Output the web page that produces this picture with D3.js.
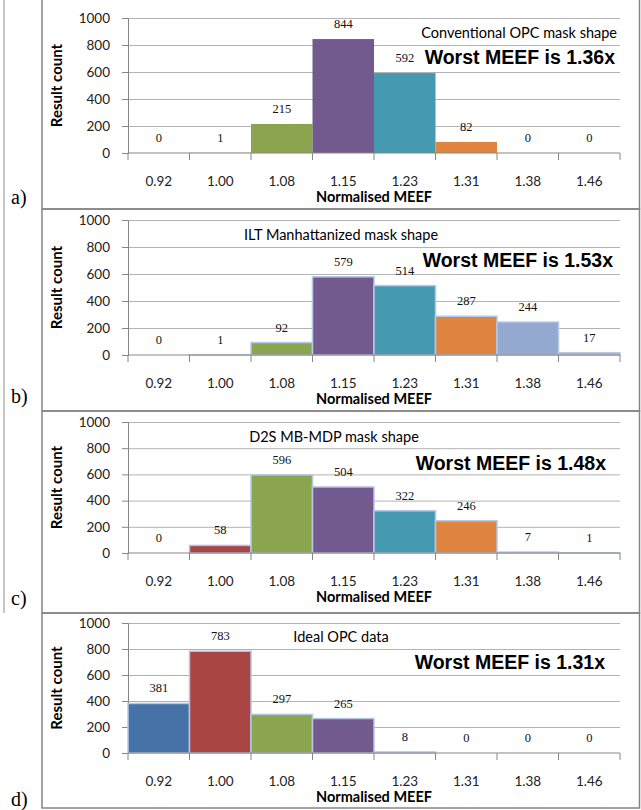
<!DOCTYPE html>
<html>
<head>
<meta charset="utf-8">
<script src="https://cdn.jsdelivr.net/npm/d3@7"></script>
<style>
  body { margin: 0; background: #fff; }
  svg { display: block; }
  .tick text { font-family: Lato, "Open Sans", sans-serif; font-size: 13.5px; fill: #222; }
  .grid line { stroke: #b3b3b3; }
  .grid path { display: none; }
</style>
</head>
<body>
<div id="chart"></div>
<script>
{
  const { d3 } = window;

  // Data
  const categories = ['0.92', '1.00', '1.08', '1.15', '1.23', '1.31', '1.38', '1.46'];
  const countsA = [0, 1, 215, 844, 592, 82, 0, 0];
  const countsB = [0, 1, 92, 579, 514, 287, 244, 17];
  const countsC = [0, 58, 596, 504, 322, 246, 7, 1];
  const countsD = [381, 783, 297, 265, 8, 0, 0, 0];
  const maskTitles = [
    'Conventional OPC mask shape',
    'ILT Manhattanized  mask shape',
    'D2S MB-MDP mask shape',
    'Ideal OPC data',
  ];
  const worstMeef = ['1.36x', '1.53x', '1.48x', '1.31x'];
  const panelLetters = ['a)', 'b)', 'c)', 'd)'];
  const yTicks = [0, 200, 400, 600, 800, 1000];

  const barColors = ['#4672a8', '#a94543', '#8aa54d', '#735a8e', '#4599b0', '#df853f', '#93a9d0', '#d99795'];

  // Page layout of each panel (box, plot top/bottom, title spots)
  const layout = [
    { top: 0, bottom: 209, yTop: 18, yBase: 153, title: [617, 33, 'end'], worst: [615, 57], stroke: 'none', letter: 204 },
    { top: 209, bottom: 411, yTop: 220, yBase: 355, title: [341, 235, 'middle'], worst: [613, 260], stroke: '#b4c7e7', letter: 403 },
    { top: 411, bottom: 613, yTop: 422, yBase: 553, title: [334, 437, 'middle'], worst: [606, 463], stroke: '#b4c7e7', letter: 605 },
    { top: 613, bottom: 808, yTop: 623, yBase: 753, title: [341, 637, 'middle'], worst: [605, 662], stroke: '#b4c7e7', letter: 806 },
  ];
  const series = [countsA, countsB, countsC, countsD];

  const width = 641;
  const height = 810;
  const boxLeft = 42;
  const plotLeft = 128;
  const plotRight = 620;

  const svg = d3.select('#chart').append('svg')
    .attr('width', width)
    .attr('height', height);

  // thin rule down the left side of the figure
  svg.append('line')
    .attr('x1', 4).attr('x2', 4)
    .attr('y1', 0).attr('y2', 613)
    .attr('stroke', '#8c8c8c')
    .attr('stroke-width', 1);

  const x = d3.scaleBand()
    .domain(categories)
    .range([plotLeft, plotRight])
    .padding(0);

  series.forEach((counts, i) => {
    const L = layout[i];
    const g = svg.append('g');

    // panel box
    g.append('path')
      .attr('d', `M${boxLeft},${L.top}V${L.bottom}H${width - 1.5}V${L.top}` + (i === 0 ? '' : `H${boxLeft}`))
      .attr('fill', 'none')
      .attr('stroke', '#858585')
      .attr('stroke-width', 1.5);

    const y = d3.scaleLinear()
      .domain([0, 1000])
      .range([L.yBase, L.yTop]);

    // gridlines
    g.append('g')
      .attr('class', 'grid')
      .attr('transform', `translate(${plotLeft},0)`)
      .call(d3.axisLeft(y).tickValues(yTicks.slice(1)).tickSize(-(plotRight - plotLeft)).tickFormat(''));

    // y axis
    const yAxis = g.append('g')
      .attr('transform', `translate(${plotLeft},0)`)
      .call(d3.axisLeft(y).tickValues(yTicks).tickFormat(d3.format('d')).tickSize(6).tickPadding(12));
    yAxis.select('.domain').attr('stroke', '#868686');
    yAxis.selectAll('.tick line').attr('stroke', '#868686');

    // bars
    g.selectAll('rect.bar')
      .data(counts)
      .join('rect')
      .attr('class', 'bar')
      .attr('x', (d, j) => x(categories[j]))
      .attr('width', x.bandwidth())
      .attr('y', (d) => y(d))
      .attr('height', (d) => y(0) - y(d))
      .attr('fill', (d, j) => barColors[j])
      .attr('stroke', L.stroke)
      .attr('stroke-width', 1.5);

    // value labels
    g.selectAll('text.val')
      .data(counts)
      .join('text')
      .attr('class', 'val')
      .attr('x', (d, j) => x(categories[j]) + x.bandwidth() / 2)
      .attr('y', (d) => y(d) - 11)
      .attr('text-anchor', 'middle')
      .style('font-family', '"Liberation Serif", serif')
      .style('font-size', '12.5px')
      .style('fill', '#111')
      .text((d) => d);

    // x axis: labels centred, ticks on band edges
    const xAxis = g.append('g')
      .attr('transform', `translate(0,${L.yBase})`)
      .call(d3.axisBottom(x).tickSize(0).tickPadding(23));
    xAxis.select('.domain').remove();
    g.append('line')
      .attr('x1', plotLeft).attr('x2', plotRight)
      .attr('y1', L.yBase).attr('y2', L.yBase)
      .attr('stroke', '#868686');
    g.selectAll('line.xtick')
      .data(categories.concat(['end']))
      .join('line')
      .attr('class', 'xtick')
      .attr('x1', (d) => (d === 'end' ? plotRight : x(d)))
      .attr('x2', (d) => (d === 'end' ? plotRight : x(d)))
      .attr('y1', L.yBase)
      .attr('y2', L.yBase + 7)
      .attr('stroke', '#868686');

    // axis titles
    g.append('text')
      .attr('x', (plotLeft + plotRight) / 2)
      .attr('y', L.yBase + 49)
      .attr('text-anchor', 'middle')
      .style('font-family', 'Lato, sans-serif')
      .style('font-weight', 'bold')
      .style('font-size', '14.5px')
      .text('Normalised MEEF');

    g.append('text')
      .attr('transform', `translate(62,${(L.yTop + L.yBase) / 2}) rotate(-90)`)
      .attr('text-anchor', 'middle')
      .style('font-family', 'Lato, sans-serif')
      .style('font-weight', 'bold')
      .style('font-size', '15px')
      .text('Result count');

    // mask-shape title
    g.append('text')
      .attr('x', L.title[0])
      .attr('y', L.title[1] + 5)
      .attr('text-anchor', L.title[2])
      .style('font-family', 'Lato, sans-serif')
      .style('font-size', '14.5px')
      .text(maskTitles[i]);

    g.append('text')
      .attr('x', L.worst[0])
      .attr('y', L.worst[1] + 7)
      .attr('text-anchor', 'end')
      .style('font-family', '"Liberation Sans", Arial, sans-serif')
      .style('font-weight', 'bold')
      .style('font-size', '19.5px')
      .text(`Worst MEEF is ${worstMeef[i]}`);

    // panel letter
    svg.append('text')
      .attr('x', 11)
      .attr('y', L.letter)
      .style('font-family', '"Liberation Serif", serif')
      .style('font-size', '20px')
      .text(panelLetters[i]);
  });
}
</script>
</body>
</html>
